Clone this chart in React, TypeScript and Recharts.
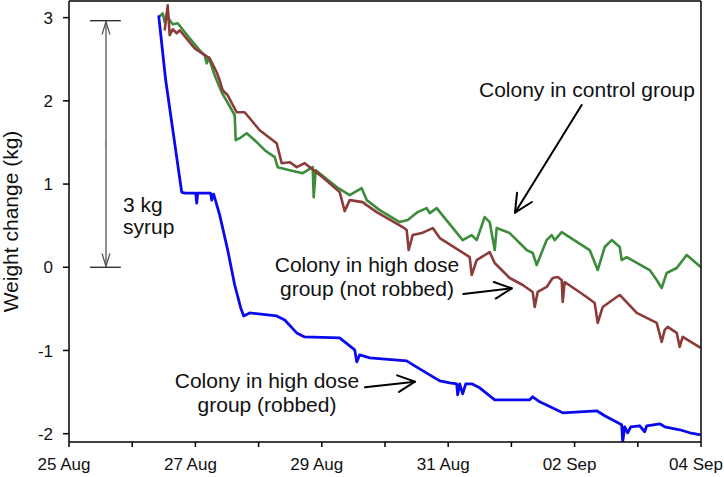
import React from "react";
import { LineChart, Line, XAxis, YAxis } from "recharts";

// ---- data (day offset from 25 Aug 00:00, weight change in kg) ----
const robbed: [number, number][] = [
  [1.419, 3.028], [1.53, 2.247], [1.783, 0.903], [1.831, 0.891], [2.005, 0.891],
  [2.021, 0.771], [2.036, 0.891], [2.241, 0.891], [2.258, 0.807], [2.289, 0.879],
  [2.385, 0.627], [2.511, 0.207], [2.622, -0.213], [2.717, -0.489], [2.765, -0.585],
  [2.859, -0.549], [3.286, -0.585], [3.413, -0.633], [3.603, -0.789], [3.729, -0.837],
  [4.283, -0.849], [4.362, -0.897], [4.521, -0.993], [4.553, -1.137], [4.6, -1.053],
  [4.758, -1.089], [5.343, -1.125], [5.47, -1.185], [5.707, -1.293], [5.866, -1.365],
  [6.024, -1.389], [6.134, -1.401], [6.15, -1.533], [6.182, -1.401], [6.229, -1.521],
  [6.277, -1.401], [6.372, -1.401], [6.498, -1.449], [6.736, -1.593], [7.29, -1.593],
  [7.337, -1.557], [7.448, -1.617], [7.812, -1.749], [8.35, -1.725], [8.476, -1.785],
  [8.745, -1.893], [8.761, -2.097], [8.793, -1.917], [8.84, -1.989], [8.888, -1.917],
  [9.03, -1.905], [9.109, -1.977], [9.141, -1.905], [9.347, -1.881], [9.426, -1.917],
  [9.663, -1.953], [9.821, -1.989], [9.995, -2.013],
];

const control: [number, number][] = [
  [1.435, 3.016], [1.483, 3.052], [1.514, 2.944], [1.546, 3.04], [1.593, 2.968],
  [1.641, 2.92], [1.72, 2.932], [1.91, 2.751], [2.068, 2.607], [2.147, 2.547],
  [2.179, 2.451], [2.21, 2.523], [2.305, 2.307], [2.416, 2.103], [2.543, 1.935],
  [2.622, 1.827], [2.638, 1.527], [2.701, 1.551], [2.812, 1.611], [2.938, 1.527],
  [3.097, 1.407], [3.255, 1.323], [3.302, 1.203], [3.492, 1.167], [3.698, 1.131],
  [3.856, 1.203], [3.872, 0.843], [3.903, 1.167], [4.236, 0.963], [4.441, 0.867],
  [4.631, 0.951], [4.71, 0.807], [4.916, 0.687], [5.233, 0.543], [5.359, 0.567],
  [5.517, 0.663], [5.66, 0.711], [5.707, 0.651], [5.818, 0.711], [6.229, 0.327],
  [6.372, 0.387], [6.451, 0.327], [6.577, 0.603], [6.656, 0.543], [6.736, 0.207],
  [6.767, 0.471], [6.973, 0.411], [7.242, 0.207], [7.337, 0.171], [7.4, 0.027],
  [7.558, 0.327], [7.637, 0.387], [7.685, 0.327], [7.796, 0.423], [8.239, 0.207],
  [8.366, -0.033], [8.476, 0.243], [8.587, 0.327], [8.714, 0.243], [8.745, 0.087],
  [8.824, 0.123], [9.188, -0.033], [9.299, -0.153], [9.378, -0.249], [9.457, -0.069],
  [9.616, -0.009], [9.774, 0.147], [9.995, 0.003],
];

const notRobbed: [number, number][] = [
  [1.514, 2.848], [1.562, 3.148], [1.593, 2.788], [1.641, 2.86], [1.704, 2.812],
  [1.752, 2.848], [1.989, 2.631], [2.226, 2.511], [2.337, 2.343], [2.384, 2.247],
  [2.432, 2.127], [2.511, 2.067], [2.653, 1.863], [2.78, 1.863], [3.017, 1.647],
  [3.286, 1.491], [3.365, 1.251], [3.492, 1.263], [3.603, 1.203], [3.729, 1.251],
  [4.013, 1.083], [4.283, 0.903], [4.362, 0.675], [4.441, 0.807], [4.647, 0.783],
  [4.71, 0.747], [4.869, 0.663], [5.28, 0.483], [5.343, 0.447], [5.375, 0.207],
  [5.438, 0.387], [5.581, 0.411], [5.756, 0.471], [5.867, 0.351], [6.34, 0.123],
  [6.372, -0.093], [6.451, 0.087], [6.656, 0.183], [6.736, 0.051], [6.973, -0.129],
  [7.179, -0.213], [7.337, -0.297], [7.369, -0.477], [7.416, -0.297], [7.558, -0.237],
  [7.653, -0.129], [7.732, -0.117], [7.796, -0.153], [7.812, -0.417], [7.843, -0.177],
  [8.191, -0.357], [8.318, -0.429], [8.366, -0.669], [8.445, -0.477], [8.666, -0.357],
  [8.714, -0.333], [8.983, -0.549], [9.299, -0.669], [9.378, -0.897], [9.426, -0.753],
  [9.473, -0.717], [9.616, -0.789], [9.663, -0.957], [9.71, -0.837], [9.995, -0.969],
];

const X_TICKS = [0, 1, 2, 3, 4, 5, 6, 7, 8, 9, 10];
const X_LABELS = ["25 Aug", "", "27 Aug", "", "29 Aug", "", "31 Aug", "", "02 Sep", "", "04 Sep"];
const Y_TICKS = [-2, -1, 0, 1, 2, 3];
const X_DOMAIN: [number, number] = [0, 10];
const Y_DOMAIN: [number, number] = [-2.1, 3.2];

// ---- layout ----
const W = 724;
const H = 477;
const MARGIN = { top: 1, right: 23, bottom: 0, left: 0 };
const Y_AXIS_W = 69;
const X_AXIS_H = 35;
const PL = MARGIN.left + Y_AXIS_W;
const PR = W - MARGIN.right;
const PT = MARGIN.top;
const PB = H - MARGIN.bottom - X_AXIS_H;

const sx = (d: number) => PL + ((d - X_DOMAIN[0]) / (X_DOMAIN[1] - X_DOMAIN[0])) * (PR - PL);
const sy = (k: number) => PT + ((Y_DOMAIN[1] - k) / (Y_DOMAIN[1] - Y_DOMAIN[0])) * (PB - PT);

const FONT = "'Liberation Sans', Arial, sans-serif";

const toRows = (arr: [number, number][]) => arr.map(([day, kg]) => ({ day, kg }));

function Arrow({ x1, y1, x2, y2, len, ang, stroke, sw }: any) {
  const a = Math.atan2(y1 - y2, x1 - x2);
  const r = (ang * Math.PI) / 180;
  const p1 = [x2 + len * Math.cos(a + r), y2 + len * Math.sin(a + r)];
  const p2 = [x2 + len * Math.cos(a - r), y2 + len * Math.sin(a - r)];
  return (
    <g stroke={stroke} strokeWidth={sw} fill="none" strokeLinecap="round" strokeLinejoin="round">
      <line x1={x1} y1={y1} x2={x2} y2={y2} />
      <polyline points={`${p1[0]},${p1[1]} ${x2},${y2} ${p2[0]},${p2[1]}`} />
    </g>
  );
}

function Overlay() {
  const syrupX = sx(0.585);
  const syrupTop = sy(2.963);
  const syrupBot = sy(0.0);
  const txt = { fontFamily: FONT, fontSize: 21, fill: "#111" } as const;
  return (
    <svg width={W} height={H} style={{ position: "absolute", left: 0, top: 0, pointerEvents: "none" }}>
      {/* frame top & right */}
      <line x1={PL} y1={PT} x2={PR} y2={PT} stroke="#000" strokeWidth={1.5} />
      <line x1={PR} y1={PT} x2={PR} y2={PB} stroke="#000" strokeWidth={1.5} />
      {/* y label */}
      <text
        x={18}
        y={(PT + PB) / 2}
        transform={`rotate(-90 18 ${(PT + PB) / 2})`}
        textAnchor="middle"
        style={txt}
      >
        Weight change (kg)
      </text>
      {/* 3 kg syrup */}
      <line x1={sx(0.33)} y1={syrupTop} x2={sx(0.82)} y2={syrupTop} stroke="#222" strokeWidth={1.3} />
      <line x1={sx(0.33)} y1={syrupBot} x2={sx(0.82)} y2={syrupBot} stroke="#222" strokeWidth={1.3} />
      <Arrow x1={syrupX} y1={(syrupTop + syrupBot) / 2} x2={syrupX} y2={syrupTop + 1} len={13} ang={17} stroke="#555" sw={1.3} />
      <Arrow x1={syrupX} y1={(syrupTop + syrupBot) / 2} x2={syrupX} y2={syrupBot - 1} len={13} ang={17} stroke="#555" sw={1.3} />
      <text x={sx(0.854)} y={sy(0.664)} style={txt}>3 kg</text>
      <text x={sx(0.854)} y={sy(0.398)} style={txt}>syrup</text>
      {/* control */}
      <text x={sx(6.487)} y={sy(2.046)} style={txt}>Colony in control group</text>
      <Arrow x1={sx(8.112)} y1={sy(1.95)} x2={sx(7.057)} y2={sy(0.656)} len={20} ang={26} stroke="#000" sw={2} />
      {/* not robbed */}
      <text x={sx(4.715)} y={sy(-0.053)} textAnchor="middle" style={txt}>Colony in high dose</text>
      <text x={sx(4.715)} y={sy(-0.342)} textAnchor="middle" style={txt}>group (not robbed)</text>
      <Arrow x1={sx(6.239)} y1={sy(-0.321)} x2={sx(7.005)} y2={sy(-0.253)} len={19} ang={26} stroke="#000" sw={2} />
      {/* robbed */}
      <text x={sx(3.133)} y={sy(-1.455)} textAnchor="middle" style={txt}>Colony in high dose</text>
      <text x={sx(3.133)} y={sy(-1.735)} textAnchor="middle" style={txt}>group (robbed)</text>
      <Arrow x1={sx(4.684)} y1={sy(-1.443)} x2={sx(5.475)} y2={sy(-1.375)} len={19} ang={26} stroke="#000" sw={2} />
    </svg>
  );
}

export default function App() {
  const tickStyle = { fontFamily: FONT, fontSize: 17, fill: "#111" };
  return (
    <div style={{ position: "absolute", left: 0, top: 0, width: W, height: H, background: "#fff" }}>
      <LineChart width={W} height={H} margin={MARGIN}>
        <XAxis
          dataKey="day"
          type="number"
          domain={X_DOMAIN}
          ticks={X_TICKS}
          allowDataOverflow
          interval={0}
          height={X_AXIS_H}
          tickSize={5}
          tickMargin={11}
          tickFormatter={(v: number) => X_LABELS[Math.round(v)] ?? ""}
          tick={{ ...tickStyle, dx: -5 }}
          axisLine={{ stroke: "#000", strokeWidth: 1.5 }}
          tickLine={{ stroke: "#000", strokeWidth: 1.5 }}
        />
        <YAxis
          type="number"
          domain={Y_DOMAIN}
          ticks={Y_TICKS}
          allowDataOverflow
          interval={0}
          width={Y_AXIS_W}
          tickSize={6}
          tickMargin={10}
          tick={tickStyle}
          axisLine={{ stroke: "#000", strokeWidth: 1.5 }}
          tickLine={{ stroke: "#000", strokeWidth: 1.5 }}
        />
        <Line data={toRows(control)} dataKey="kg" type="linear" stroke="#3c8c3c" strokeWidth={2.6} dot={false} isAnimationActive={false} strokeLinejoin="round" />
        <Line data={toRows(notRobbed)} dataKey="kg" type="linear" stroke="#8c3b3b" strokeWidth={2.6} dot={false} isAnimationActive={false} strokeLinejoin="round" />
        <Line data={toRows(robbed)} dataKey="kg" type="linear" stroke="#0a0aee" strokeWidth={2.8} dot={false} isAnimationActive={false} strokeLinejoin="round" />
      </LineChart>
      <Overlay />
    </div>
  );
}
